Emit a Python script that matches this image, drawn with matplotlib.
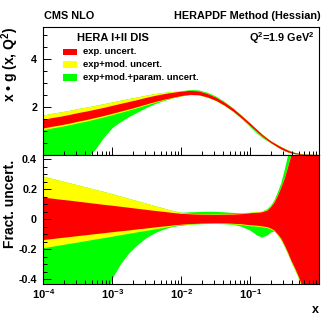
import matplotlib
matplotlib.use("Agg")
import matplotlib.pyplot as plt
import numpy as np
from matplotlib.patches import Rectangle
from matplotlib.ticker import FixedLocator, NullFormatter

plt.rcParams["font.family"] = ["Liberation Sans", "DejaVu Sans"]
plt.rcParams["mathtext.fontset"] = "custom"
plt.rcParams["mathtext.rm"] = "Liberation Sans"
plt.rcParams["mathtext.bf"] = "Liberation Sans:bold"

log_x = [-4, -3.875, -3.75, -3.625, -3.5, -3.375, -3.25, -3.125, -3, -2.875, -2.75,
         -2.625, -2.5, -2.375, -2.25, -2.125, -2, -1.875, -1.75, -1.625, -1.5, -1.375,
         -1.25, -1.125, -1, -0.9, -0.83, -0.75, -0.7, -0.65, -0.6, -0.55, -0.5, -0.45,
         -0.4, -0.35, -0.3, -0.25, -0.2, -0.1, 0]

# central gluon x*g(x, Q2)
xg_central = [1.29, 1.36, 1.42, 1.49, 1.57, 1.64, 1.72, 1.80, 1.89, 1.98, 2.07,
              2.16, 2.26, 2.35, 2.43, 2.50, 2.56, 2.60, 2.58, 2.48, 2.33, 2.12,
              1.87, 1.57, 1.25, 0.99, 0.81, 0.63, 0.52, 0.43, 0.34, 0.26, 0.19, 0.13,
              0.085, 0.05, 0.03, 0.015, 0.008, 0.003, 0.0]

# fractional uncertainties
exp_up = [0.144, 0.137, 0.130, 0.124, 0.117, 0.110, 0.103, 0.096, 0.090, 0.083, 0.076,
          0.069, 0.062, 0.055, 0.049, 0.042, 0.036, 0.033, 0.031, 0.030, 0.029, 0.030,
          0.031, 0.034, 0.040, 0.043, 0.046, 0.058, 0.080, 0.110, 0.155, 0.21, 0.27, 0.35,
          0.43, 0.56, 0.72, 0.95, 1.2, 1.7, 2.0]
exp_dn = [-0.138, -0.132, -0.125, -0.119, -0.112, -0.106, -0.099, -0.093, -0.086, -0.080, -0.074,
          -0.067, -0.061, -0.054, -0.048, -0.042, -0.036, -0.032, -0.030, -0.028, -0.027, -0.028,
          -0.030, -0.033, -0.040, -0.043, -0.047, -0.053, -0.062, -0.075, -0.10, -0.13, -0.175, -0.225,
          -0.28, -0.327, -0.38, -0.44, -0.5, -0.65, -0.8]
mod_up = [0.284, 0.269, 0.255, 0.240, 0.226, 0.211, 0.196, 0.182, 0.167, 0.151, 0.135,
          0.119, 0.103, 0.087, 0.071, 0.055, 0.041, 0.036, 0.034, 0.033, 0.032, 0.033,
          0.034, 0.037, 0.043, 0.047, 0.050, 0.062, 0.084, 0.115, 0.16, 0.215, 0.275, 0.355,
          0.435, 0.57, 0.73, 0.96, 1.22, 1.72, 2.05]
mod_dn = [-0.193, -0.183, -0.174, -0.164, -0.155, -0.145, -0.135, -0.126, -0.116, -0.106, -0.096,
          -0.086, -0.077, -0.067, -0.057, -0.047, -0.039, -0.035, -0.032, -0.030, -0.030, -0.031,
          -0.034, -0.038, -0.046, -0.049, -0.053, -0.059, -0.068, -0.081, -0.106, -0.137, -0.182, -0.233,
          -0.288, -0.336, -0.39, -0.45, -0.51, -0.66, -0.82]
tot_up = [0.284, 0.269, 0.255, 0.240, 0.226, 0.211, 0.196, 0.182, 0.167, 0.151, 0.135,
          0.119, 0.103, 0.087, 0.071, 0.055, 0.043, 0.046, 0.048, 0.050, 0.049, 0.046,
          0.042, 0.040, 0.043, 0.047, 0.050, 0.068, 0.090, 0.125, 0.18, 0.24, 0.33, 0.43,
          0.55, 0.70, 0.88, 1.1, 1.3, 1.8, 2.2]
tot_dn = [-2.5, -2.2, -1.9, -1.6, -1.35, -1.1, -0.88, -0.60, -0.40, -0.30, -0.225,
          -0.17, -0.125, -0.092, -0.068, -0.052, -0.043, -0.037, -0.034, -0.032, -0.031, -0.033,
          -0.037, -0.050, -0.075, -0.108, -0.122, -0.108, -0.088, -0.082, -0.108, -0.139, -0.184, -0.235,
          -0.29, -0.338, -0.392, -0.452, -0.512, -0.662, -0.822]

bands = [
    ("exp+mod.+param. uncert.", "#00ff00", tot_dn, tot_up),
    ("exp+mod. uncert.", "#ffff00", mod_dn, mod_up),
    ("exp. uncert.", "#ff0000", exp_dn, exp_up),
]

x = 10.0 ** np.array(log_x)
central = np.array(xg_central)

W = H = 332.0


def fx(px):
    return px / W


def fy(py):
    return 1 - py / H


fig = plt.figure(figsize=(3.32, 3.32), dpi=100)
left, right = 43.3, 319.3
ax_top = fig.add_axes([fx(left), fy(154.5), fx(right - left), (154.5 - 26.7) / H])
ax_bot = fig.add_axes([fx(left), fy(284.0), fx(right - left), (284.0 - 154.5) / H], sharex=ax_top)

for label, color, dn, up in bands:
    dn = np.array(dn)
    up = np.array(up)
    ax_top.fill_between(x, central * (1 + dn), central * (1 + up), color=color, lw=0)
    ax_bot.fill_between(x, dn, up, color=color, lw=0)

ax_top.set_xscale("log")
ax_top.set_xlim(1e-4, 1)
ax_top.set_ylim(0, 5.35)
ax_bot.set_ylim(-0.43, 0.43)

for ax in (ax_top, ax_bot):
    for sp in ax.spines.values():
        sp.set_linewidth(0.8)
        sp.set_zorder(5)
    ax.tick_params(which="both", direction="in", top=False, right=False, width=0.7)
    ax.tick_params(which="major", length=6)
    ax.tick_params(which="minor", length=3)
    ax.set_axisbelow(False)

ax_top.yaxis.set_major_locator(FixedLocator([2, 4]))
ax_top.yaxis.set_minor_locator(FixedLocator(np.arange(0.5, 5.4, 0.5)))
ax_top.set_yticklabels(["2", "4"], fontsize=7.7, fontweight="bold")
ax_top.tick_params(axis="y", pad=4.5)
ax_top.tick_params(axis="x", labelbottom=False)

ax_bot.yaxis.set_major_locator(FixedLocator([-0.4, -0.2, 0, 0.2, 0.4]))
ax_bot.yaxis.set_minor_locator(FixedLocator(np.arange(-0.4, 0.41, 0.05)))
ax_bot.set_yticklabels(["-0.4", "-0.2", "0", "0.2", "0.4"], fontsize=7.7, fontweight="bold")
ax_bot.tick_params(axis="y", pad=4.5)

decades = [1e-4, 1e-3, 1e-2, 1e-1, 1]
ax_bot.xaxis.set_major_locator(FixedLocator(decades))
minors = [m * d for d in decades[:-1] for m in range(2, 10)]
ax_bot.xaxis.set_minor_locator(FixedLocator(minors))
ax_bot.xaxis.set_minor_formatter(NullFormatter())
ax_bot.set_xticklabels([r"$\mathbf{10^{-4}}$", r"$\mathbf{10^{-3}}$", r"$\mathbf{10^{-2}}$",
                        r"$\mathbf{10^{-1}}$", ""], fontsize=8)
ax_bot.tick_params(axis="x", pad=2)

# titles and labels
fig.text(fx(44), fy(16), "CMS NLO", fontsize=7.8, fontweight="bold", va="center", ha="left")
fig.text(fx(320.5), fy(16), "HERAPDF Method (Hessian)", fontsize=7.8, fontweight="bold",
         va="center", ha="right")
fig.text(fx(77), fy(38), "HERA I+II DIS", fontsize=8, fontweight="bold", va="center", ha="left")
fig.text(fx(314), fy(38), r"Q$^{\mathbf{2}}$=1.9 GeV$^{\mathbf{2}}$", fontsize=7.8, fontweight="bold",
         va="center", ha="right")

fig.text(fx(10), fy(27), "x \u2022 g (x, Q$^{\\mathbf{2}}$)", fontsize=10, fontweight="bold",
         rotation=90, ha="center", va="top")
fig.text(fx(10), fy(160), "Fract. uncert.", fontsize=10, fontweight="bold",
         rotation=90, ha="center", va="top")
fig.text(fx(315), fy(310), "x", fontsize=9, fontweight="bold", ha="center", va="center")

# legend
leg_rows = [("exp. uncert.", "#ff0000", 52.0), ("exp+mod. uncert.", "#ffff00", 64.7),
            ("exp+mod.+param. uncert.", "#00ff00", 77.6)]
for text, color, py in leg_rows:
    fig.add_artist(Rectangle((fx(62.7), fy(py + 3.4)), fx(14), 6.8 / H, color=color,
                             transform=fig.transFigure, lw=0))
    fig.text(fx(83), fy(py), text, fontsize=6.8, fontweight="bold", va="center", ha="left")

fig.savefig("out.png", dpi=100)
